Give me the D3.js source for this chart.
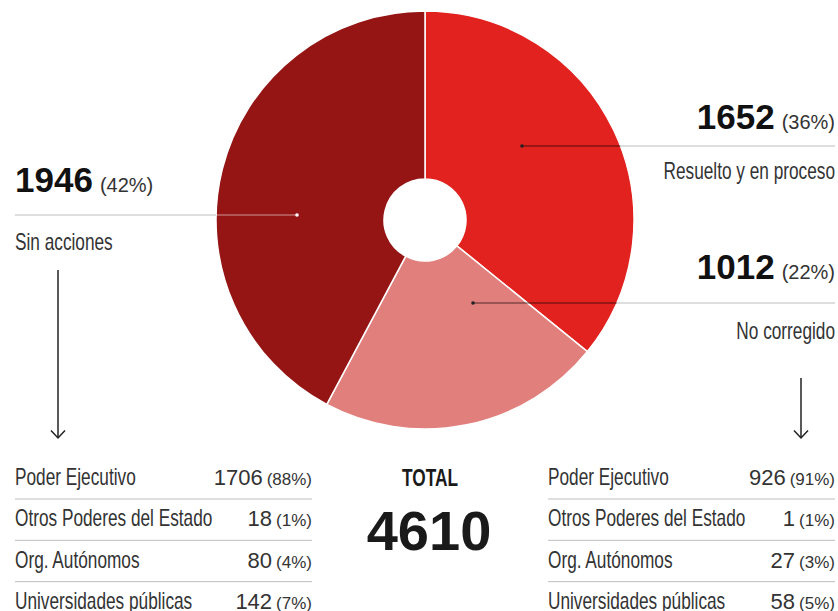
<!doctype html>
<html>
<head>
<meta charset="utf-8">
<script src="https://cdnjs.cloudflare.com/ajax/libs/d3/7.8.5/d3.min.js"></script>
<style>
  body { margin: 0; background: #fff; }
  text { font-family: "Liberation Sans", Arial, sans-serif; }
</style>
</head>
<body>
<svg id="chart" width="838" height="611"></svg>
<script>
// main pie data (drawn clockwise from 12 o'clock)
var labels = ["Resuelto y en proceso", "No corregido", "Sin acciones"];
var values = [1652, 1012, 1946];
var shares = ["36%", "22%", "42%"];
var colors = ["#e2221f", "#e17f7c", "#951515"];
var total = 4610;

// breakdown tables
var entities = ["Poder Ejecutivo", "Otros Poderes del Estado", "Org. Autónomos", "Universidades públicas"];
var sinAcciones = [1706, 18, 80, 142];
var sinAccionesPct = ["88%", "1%", "4%", "7%"];
var noCorregido = [926, 1, 27, 58];
var noCorregidoPct = ["91%", "1%", "3%", "5%"];

var svg = d3.select("#chart");
var cx = 425, cy = 220, rOuter = 209, rInner = 41;

var pie = d3.pie().sort(null).value(function(d) { return d; });
var arc = d3.arc().innerRadius(rInner).outerRadius(rOuter);
var arcs = pie(values);

var g = svg.append("g").attr("transform", "translate(" + cx + "," + cy + ")");
g.selectAll("path")
  .data(arcs)
  .enter().append("path")
    .attr("d", arc)
    .attr("fill", function(d, i) { return colors[i]; })
    .attr("stroke", "#fff")
    .attr("stroke-width", 1.5);

// condensed text: Arial metrics squeezed horizontally (no narrow font installed)
function narrowText(parent, x, y, txt, size, anchor, opts) {
  opts = opts || {};
  var wrap = parent.append("g")
    .attr("transform", "translate(" + x + "," + y + ") scale(" + (opts.sx || 0.75) + ",1)");
  return wrap.append("text")
    .attr("x", 0).attr("y", 0)
    .attr("text-anchor", anchor || "start")
    .attr("font-size", size)
    .attr("font-weight", opts.bold ? "bold" : "normal")
    .attr("fill", opts.fill || "#333")
    .text(txt);
}

// leader lines
var leaders = [
  { y: 146, dot: 522, side: "right", inner: "rgba(0,0,0,0.65)", dotColor: "#222" },
  { y: 303, dot: 473, side: "right", inner: "rgba(0,0,0,0.65)", dotColor: "#222" },
  { y: 215, dot: 297, side: "left",  inner: "rgba(255,255,255,0.55)", dotColor: "#fff" }
];

leaders.forEach(function(l) {
  var dy = l.y - cy;
  var edge = Math.sqrt(rOuter * rOuter - dy * dy);
  var edgeX = l.side == "right" ? cx + edge : cx - edge;
  var endX = l.side == "right" ? 835 : 15;
  svg.append("line")
    .attr("x1", edgeX).attr("x2", endX).attr("y1", l.y).attr("y2", l.y)
    .attr("stroke", "#bdbdbd").attr("stroke-width", 1);
  svg.append("line")
    .attr("x1", l.dot).attr("x2", edgeX).attr("y1", l.y).attr("y2", l.y)
    .attr("stroke", l.inner).attr("stroke-width", 1);
  svg.append("circle")
    .attr("cx", l.dot).attr("cy", l.y).attr("r", 1.8)
    .attr("fill", l.dotColor);
});

// big numbers + labels
function bigLabel(i, x, y, anchor, labelY) {
  var t = svg.append("text")
    .attr("x", x).attr("y", y)
    .attr("text-anchor", anchor);
  t.append("tspan")
    .attr("font-weight", "bold").attr("font-size", 35).attr("fill", "#111")
    .text(values[i]);
  t.append("tspan")
    .attr("font-size", 20).attr("fill", "#333")
    .attr("dx", 7)
    .text("(" + shares[i] + ")");
  narrowText(svg, x, labelY, labels[i], 23, anchor);
}
bigLabel(0, 835, 129, "end", 179);
bigLabel(1, 835, 279, "end", 339);
bigLabel(2, 15, 192, "start", 250);

// arrows
function arrow(x, y1, y2) {
  svg.append("line")
    .attr("x1", x).attr("x2", x).attr("y1", y1).attr("y2", y2)
    .attr("stroke", "#222").attr("stroke-width", 1.5);
  svg.append("path")
    .attr("d", d3.line()([[x - 7, y2 - 7.5], [x, y2], [x + 7, y2 - 7.5]]))
    .attr("fill", "none").attr("stroke", "#222").attr("stroke-width", 1.5);
}
arrow(58, 270, 438);
arrow(801, 378, 438);

// tables
var rowY = d3.scalePoint().domain(entities).range([485, 609]);

function table(x0, x1, nums, pcts) {
  var tg = svg.append("g");
  entities.forEach(function(e, i) {
    var y = rowY(e);
    narrowText(tg, x0, y, e, 23, "start");
    var t = tg.append("text")
      .attr("x", x1).attr("y", y)
      .attr("text-anchor", "end")
      .attr("fill", "#333");
    t.append("tspan").attr("font-size", 22).text(nums[i]);
    t.append("tspan").attr("font-size", 17).attr("dx", 4).text("(" + pcts[i] + ")");
    if (i < entities.length - 1) {
      tg.append("line")
        .attr("x1", x0).attr("x2", x1)
        .attr("y1", y + 14).attr("y2", y + 14)
        .attr("stroke", "#bdbdbd").attr("stroke-width", 1);
    }
  });
}
table(15, 312, sinAcciones, sinAccionesPct);
table(548, 835, noCorregido, noCorregidoPct);

// total
narrowText(svg, 430, 486, "TOTAL", 24, "middle", { bold: true, sx: 0.72, fill: "#1a1a1a" });
svg.append("text")
  .attr("x", 429).attr("y", 550)
  .attr("text-anchor", "middle")
  .attr("font-weight", "bold").attr("font-size", 56).attr("fill", "#1a1a1a")
  .text(total);
</script>
</body>
</html>
